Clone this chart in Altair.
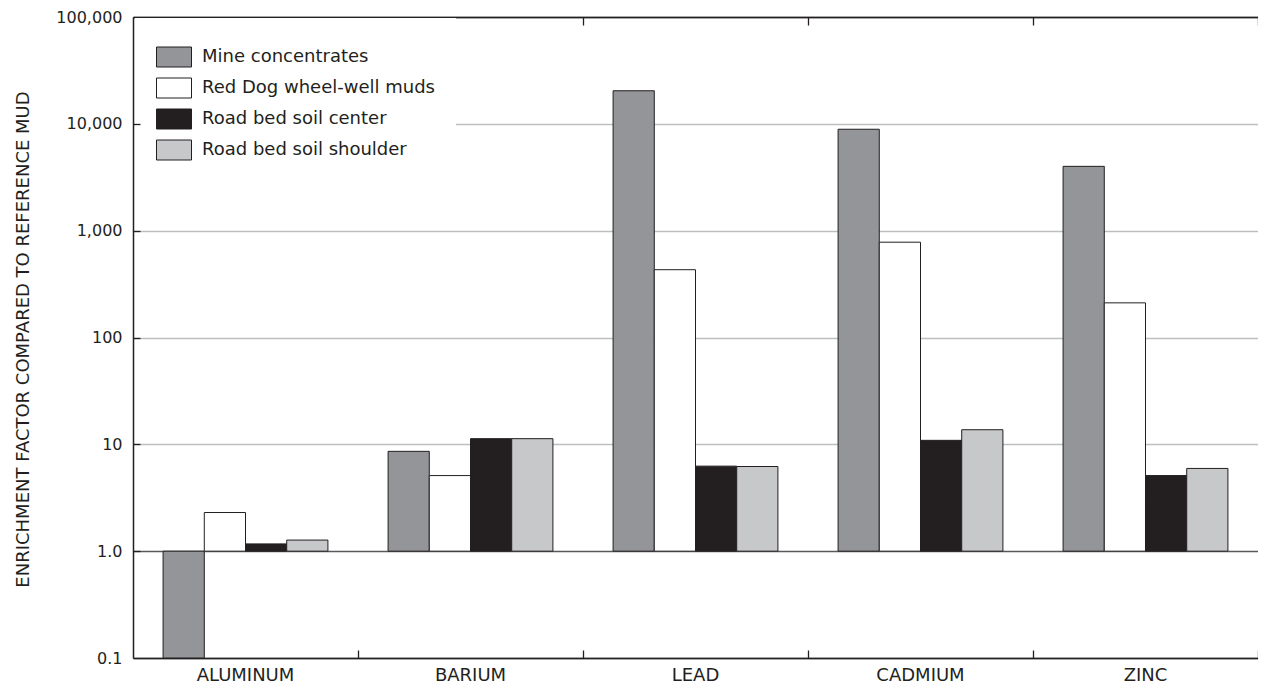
import altair as alt
import pandas as pd

elements = ["ALUMINUM", "BARIUM", "LEAD", "CADMIUM", "ZINC"]
series = ["Mine concentrates", "Red Dog wheel-well muds",
          "Road bed soil center", "Road bed soil shoulder"]
mine = [0.1, 8.6, 20400, 8900, 4000]
red_dog = [2.3, 5.1, 431, 780, 211]
center = [1.17, 11.3, 6.25, 10.9, 5.1]
shoulder = [1.27, 11.3, 6.2, 13.7, 5.95]
colors = ["#939598", "#ffffff", "#231f20", "#c7c8ca"]
y_ticks = [0.1, 1, 10, 100, 1000, 10000, 100000]

rows = []
for s, vals in zip(series, [mine, red_dog, center, shoulder]):
    for e, v in zip(elements, vals):
        rows.append({"element": e, "series": s, "value": v, "base": 1})
df = pd.DataFrame(rows)

FONT = "DejaVu Sans"
INK = "#231f20"

x_scale = alt.Scale(domain=elements, paddingInner=0, paddingOuter=0)
xo_scale = alt.Scale(domain=series, paddingInner=0, paddingOuter=0.73)
y_scale = alt.Scale(type="log", domain=[0.1, 100000], nice=False)

base = alt.Chart(df)
xoff = alt.XOffset("series:N", scale=xo_scale, sort=series)

bars = base.mark_bar(stroke=INK, strokeWidth=1).encode(
    x=alt.X("element:N", scale=x_scale, sort=elements,
            axis=alt.Axis(orient="bottom", title=None, ticks=False, domain=True,
                          domainColor=INK, domainWidth=1.5, labelFont=FONT,
                          labelFontSize=18, labelPadding=8, labelColor=INK,
                          labelAngle=0, grid=False)),
    xOffset=xoff,
    y=alt.Y("value:Q", scale=y_scale,
            axis=alt.Axis(orient="left", values=y_ticks,
                          labelExpr="datum.value < 0.5 ? '0.1' : datum.value == 1 ? '1.0' : format(datum.value, ',')",
                          ticks=False, grid=True,
                          gridColor=alt.condition("datum.value == 1 || datum.value < 0.5 || datum.value > 50000",
                                                  alt.value("#58595b"), alt.value("#bcbec0")),
                          gridWidth=1.3, domain=True, domainColor=INK, domainWidth=1.5,
                          labelFont=FONT, labelFontSize=16, labelColor=INK, labelPadding=11,
                          title="ENRICHMENT FACTOR COMPARED TO REFERENCE MUD",
                          titleFont=FONT, titleFontSize=18, titleFontWeight="normal",
                          titleColor=INK, titleX=-110, titleY=322, titleAngle=270,
                          titleAlign="center", titleBaseline="middle")),
    y2=alt.Y2("base:Q"),
    fill=alt.Fill("series:N", sort=series,
                  scale=alt.Scale(domain=series, range=colors),
                  legend=alt.Legend(title=None, orient="none", legendX=2, legendY=1,
                                    direction="vertical", fillColor="white", padding=21,
                                    symbolType="M-1,-0.5714H1V0.5714H-1Z", symbolSize=1225,
                                    symbolStrokeColor=INK, symbolStrokeWidth=1,
                                    symbolOpacity=1, labelFont=FONT, labelFontSize=18,
                                    labelColor=INK, labelOffset=10, rowPadding=1,
                                    labelLimit=400)),
)

ticks_bl = base.mark_bar(opacity=0).encode(
    x=alt.X("element:N", scale=x_scale, sort=elements,
            axis=alt.Axis(orient="bottom", title=None, labels=False, domain=False,
                          ticks=True, tickSize=8, offset=-8, values=elements[1:],
                          tickBand="extent", tickExtra=False, tickColor=INK,
                          tickWidth=1.3, grid=False)),
    xOffset=xoff,
    y=alt.Y("value:Q", scale=y_scale,
            axis=alt.Axis(orient="left", title=None, labels=False, domain=False,
                          ticks=True, tickSize=7, offset=-7, values=y_ticks[1:-1],
                          tickColor=INK, tickWidth=1.3, grid=False, zindex=1)),
)

ticks_top = base.mark_bar(opacity=0).encode(
    x=alt.X("element:N", scale=x_scale, sort=elements,
            axis=alt.Axis(orient="top", title=None, labels=False, domain=False,
                          ticks=True, tickSize=8, offset=-8, values=elements[1:],
                          tickBand="extent", tickExtra=False, tickColor=INK,
                          tickWidth=1.3, grid=False)),
    xOffset=xoff,
    y=alt.Y("value:Q", scale=y_scale, axis=None),
)

top_line = base.mark_bar(opacity=0).encode(
    x=alt.X("element:N", scale=x_scale, sort=elements,
            axis=alt.Axis(orient="top", title=None, labels=False, domain=True,
                          domainColor=INK, domainWidth=1.5, ticks=False, grid=False)),
    xOffset=xoff,
    y=alt.Y("value:Q", scale=y_scale, axis=None),
)

chart = alt.layer(bars, ticks_bl, ticks_top, top_line).resolve_axis(
    x="independent", y="independent"
).properties(
    width=1125, height=641,
    autosize=alt.AutoSizeParams(type="none"),
    padding={"left": 125, "top": 9, "right": 0, "bottom": 32},
    background="white",
).configure_view(stroke=None)

chart.save("out.html", embed_options={"renderer": "svg", "actions": False})
